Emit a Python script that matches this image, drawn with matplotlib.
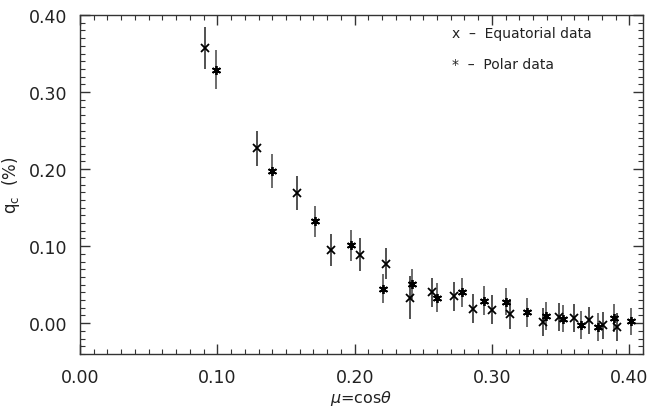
import matplotlib
matplotlib.use("Agg")
import matplotlib.pyplot as plt
from matplotlib.ticker import MultipleLocator, FormatStrFormatter

# Equatorial data ("x")
eq_mu = [0.0909, 0.129, 0.158, 0.1825, 0.2036, 0.223, 0.240, 0.2565, 0.272,
         0.2865, 0.300, 0.313, 0.3375, 0.349, 0.360, 0.371, 0.381, 0.391]
eq_q = [0.357, 0.227, 0.169, 0.095, 0.089, 0.077, 0.033, 0.040, 0.035,
        0.019, 0.0175, 0.012, 0.0015, 0.008, 0.0067, 0.0036, -0.003, -0.005]
eq_err = [0.027, 0.023, 0.022, 0.021, 0.021, 0.020, 0.028, 0.019, 0.019,
          0.019, 0.019, 0.019, 0.018, 0.018, 0.018, 0.018, 0.018, 0.018]

# Polar data ("*")
po_mu = [0.0989, 0.140, 0.1714, 0.1976, 0.2206, 0.2415, 0.260, 0.278,
         0.2945, 0.310, 0.3253, 0.339, 0.352, 0.365, 0.377, 0.389, 0.401]
po_q = [0.329, 0.197, 0.132, 0.101, 0.045, 0.051, 0.033, 0.040,
        0.029, 0.028, 0.014, 0.009, 0.006, -0.002, -0.0045, 0.0067, 0.0023]
po_err = [0.025, 0.022, 0.020, 0.020, 0.019, 0.019, 0.019, 0.019,
          0.019, 0.018, 0.019, 0.018, 0.018, 0.018, 0.018, 0.018, 0.018]

plt.rcParams['font.family'] = ['DejaVu Sans']
plt.rcParams['mathtext.fontset'] = 'dejavusans'
plt.rcParams['text.color'] = '#222222'

fig = plt.figure(figsize=(6.52, 4.10), dpi=100)
ax = fig.add_axes([80/652, 1-355/410, 563/652, 339/410])

ax.errorbar(eq_mu, eq_q, yerr=eq_err, fmt='none', ecolor='#222222', elinewidth=1.1, capsize=0)
ax.errorbar(po_mu, po_q, yerr=po_err, fmt='none', ecolor='#444444', elinewidth=1.1, capsize=0)
ax.plot(eq_mu, eq_q, ls='none', marker='x', ms=5.5, mew=1.3, color='black')
ax.plot(po_mu, po_q, ls='none', marker=(6, 2, 0), ms=6.5, mew=1.3, color='black')

ax.set_xlim(0.0, 0.41)
ax.set_ylim(-0.04, 0.40)
ax.xaxis.set_major_locator(MultipleLocator(0.1))
ax.xaxis.set_minor_locator(MultipleLocator(0.01))
ax.yaxis.set_major_locator(MultipleLocator(0.1))
ax.yaxis.set_minor_locator(MultipleLocator(0.01))
ax.xaxis.set_major_formatter(FormatStrFormatter('%.2f'))
ax.yaxis.set_major_formatter(FormatStrFormatter('%.2f'))
ax.tick_params(which='both', direction='in', top=True, right=True, labelsize=12.5,
               color='#333333', labelcolor='#222222')
ax.tick_params(which='major', length=7, width=1.0)
ax.tick_params(axis='y', which='major', pad=9)
ax.tick_params(axis='x', which='major', pad=10)
ax.tick_params(which='minor', length=3.5, width=0.8)
for s in ax.spines.values():
    s.set_linewidth(1.0)
    s.set_color('#333333')

ax.set_xlabel(r'$\mathit{\mu}$=cos$\mathit{\theta}$', fontsize=11.5, color='#222222')
ax.xaxis.set_label_coords(0.5, (355 - 389) / 339)
ax.set_ylabel(r'q$_{\rm c}$  (%)', fontsize=12, color='#222222')
ax.yaxis.set_label_coords((22 - 80) / 563, 0.5)

ax.text(0.661, 0.947, 'x  \u2013  Equatorial data', transform=ax.transAxes,
        fontsize=10, va='center', ha='left')
ax.text(0.661, 0.855, '*  \u2013  Polar data', transform=ax.transAxes,
        fontsize=10, va='center', ha='left')

fig.savefig('out.png', dpi=100)
